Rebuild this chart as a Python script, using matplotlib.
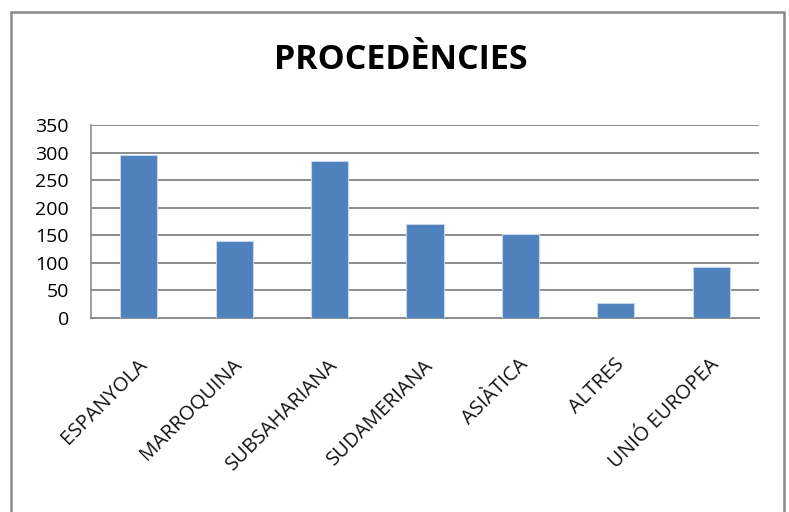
import matplotlib
matplotlib.use("Agg")
import matplotlib.pyplot as plt
import matplotlib.transforms as mtransforms
from matplotlib.patches import Rectangle
from matplotlib.transforms import offset_copy

categories = ["ESPANYOLA", "MARROQUINA", "SUBSAHARIANA", "SUDAMERIANA",
              "ASIÀTICA", "ALTRES", "UNIÓ EUROPEA"]
values = [296, 139, 284, 171, 153, 27, 92]
yticks = [0, 50, 100, 150, 200, 250, 300, 350]
title = "PROCEDÈNCIES"

plt.rcParams['font.family'] = ['Open Sans', 'DejaVu Sans']

fig = plt.figure(figsize=(7.89, 5.12), dpi=100)
fig.patch.set_facecolor('white')

# outer chart border
fig.patches.append(Rectangle((11/789, -0.1), (784-11)/789, 1.1 - 12/512,
                             transform=fig.transFigure, fill=False,
                             edgecolor='#8a8a8a', linewidth=1.8, clip_on=False))

ax = fig.add_axes([91/789, 1-318/512, (759-91)/789, (318-125)/512])
x = list(range(len(categories)))
ax.bar(x, values, width=0.39, color='#4F81BD', edgecolor='#c6d5ea',
       linewidth=0.8, zorder=3)
ax.set_xlim(-0.5, len(categories) - 0.5)
ax.set_ylim(0, 350)
ax.set_yticks(yticks)
ax.set_yticklabels([str(v) for v in yticks])
ax.yaxis.grid(True, color='#8c8c8c', linewidth=1.4, zorder=0)
ax.set_axisbelow(True)
for s in ['top', 'right']:
    ax.spines[s].set_visible(False)
ax.spines['left'].set_color('#8c8c8c')
ax.spines['left'].set_linewidth(1.2)
ax.spines['bottom'].set_color('#8c8c8c')
ax.spines['bottom'].set_linewidth(1.4)
ax.tick_params(axis='y', length=0, pad=16, labelsize=14, colors='black')
ax.tick_params(axis='x', length=0)
ax.set_xticks(x)
ax.set_xticklabels([])

blend = mtransforms.blended_transform_factory(ax.transData, ax.transAxes)
trans = offset_copy(blend, fig=fig, x=5, y=-44, units='dots')
for xi, lab in zip(x, categories):
    ax.text(xi, 0, lab, transform=trans, rotation=45, ha='right', va='center',
            rotation_mode='anchor', fontsize=14.5, color='#111111')

fig.text(401/789, 1-60/512, title, ha='center', va='center',
         fontsize=24.5, fontweight='bold', color='black')

fig.savefig('out.png', dpi=100, facecolor='white')
